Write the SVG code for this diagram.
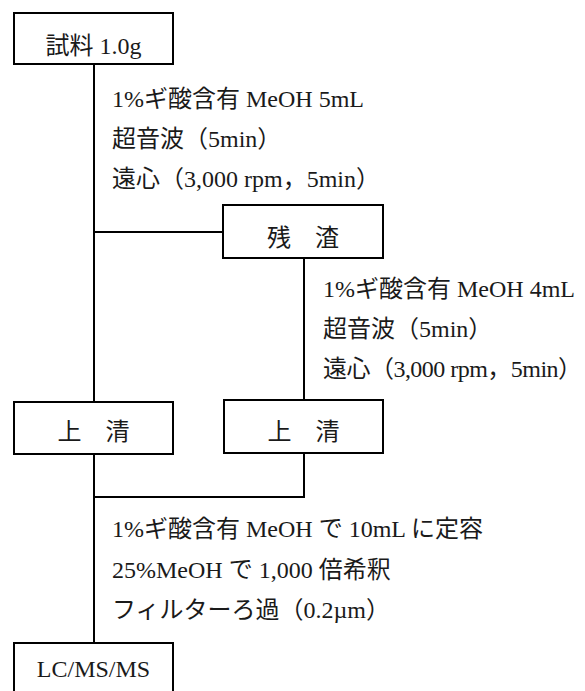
<svg xmlns="http://www.w3.org/2000/svg" width="585" height="691" viewBox="0 0 585 691">
<style>
  .box { fill: #fff; stroke: #000; stroke-width: 2; }
  .ln { fill: none; stroke: #000; stroke-width: 2; }
  text { font-family: "Liberation Serif", "Noto Sans CJK JP", serif; font-size: 24px; fill: #1a1a1a; }
  .lbl { text-anchor: middle; }
</style>
<rect width="585" height="691" fill="#fff"/>
<g id="connectors">
  <path class="ln" d="M94 64 V402"/>
  <path class="ln" d="M94 232 H223"/>
  <path class="ln" d="M304 258 V400"/>
  <path class="ln" d="M94 454 V643"/>
  <path class="ln" d="M304 453 V497 H94"/>
</g>
<g id="node-sample">
  <rect class="box" x="14" y="13" width="159" height="51"/>
  <text class="lbl" x="93.5" y="54">試料 1.0g</text>
</g>
<g id="step1">
  <text x="112" y="107">1%ギ酸含有 MeOH 5mL</text>
  <text x="112" y="147">超音波（5min）</text>
  <text x="112" y="187">遠心（3,000 rpm，5min）</text>
</g>
<g id="node-residue">
  <rect class="box" x="223" y="205" width="160" height="53"/>
  <text class="lbl" x="303" y="245.5">残　渣</text>
</g>
<g id="step2">
  <text x="323" y="297">1%ギ酸含有 MeOH 4mL</text>
  <text x="323" y="337">超音波（5min）</text>
  <text x="323" y="377" textLength="259" lengthAdjust="spacing">遠心（3,000 rpm，5min）</text>
</g>
<g id="node-supernatant1">
  <rect class="box" x="14" y="402" width="159" height="52"/>
  <text class="lbl" x="93.5" y="440">上　清</text>
</g>
<g id="node-supernatant2">
  <rect class="box" x="224" y="400" width="159" height="53"/>
  <text class="lbl" x="303.5" y="440">上　清</text>
</g>
<g id="step3">
  <text x="112" y="537">1%ギ酸含有 MeOH で 10mL に定容</text>
  <text x="112" y="577.5">25%MeOH で 1,000 倍希釈</text>
  <text x="112" y="618">フィルターろ過（0.2µm）</text>
</g>
<g id="node-lcmsms">
  <rect class="box" x="14" y="643" width="159" height="52"/>
  <text class="lbl" x="93.5" y="677">LC/MS/MS</text>
</g>
</svg>
